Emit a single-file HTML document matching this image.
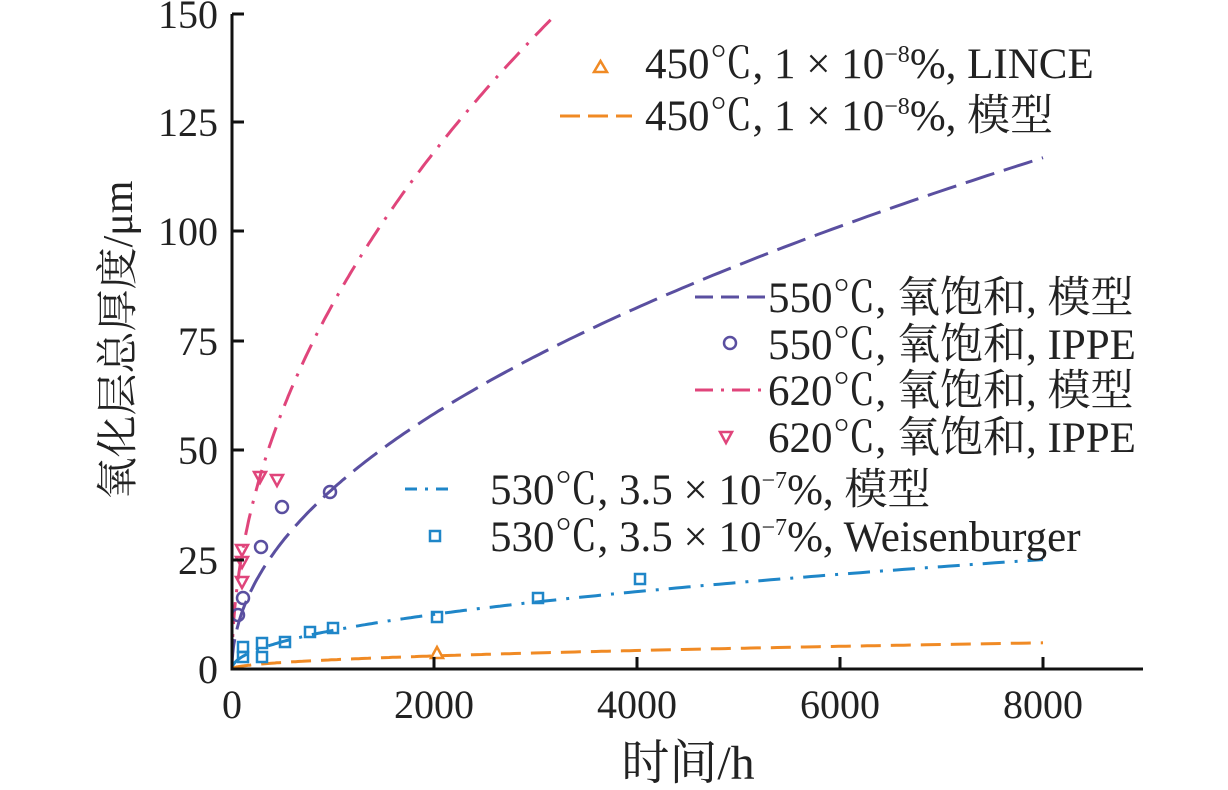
<!DOCTYPE html>
<html><head><meta charset="utf-8"><style>
body{margin:0;background:#fff}
svg text{font-family:"Liberation Serif","Noto Serif CJK SC",serif;fill:#222}
</style></head><body>
<svg width="1228" height="785" viewBox="0 0 1228 785" xmlns="http://www.w3.org/2000/svg">
<g id="curves" fill="none" stroke-width="3">
<path id="c620" stroke="#e0457b" stroke-dasharray="22,10,3,10"/>
<path id="c550" stroke="#5a4fa0" stroke-dasharray="30,10"/>
<path id="c530" stroke="#1f86c8" stroke-dasharray="22,10,3,10"/>
<path id="c450" stroke="#f08a24" stroke-dasharray="20,10"/>
</g>
<g fill="none" stroke="#5a4fa0" stroke-width="2.5">
<circle cx="238" cy="615" r="6"/><circle cx="243" cy="598" r="6"/><circle cx="261" cy="547" r="6"/><circle cx="282" cy="507" r="6"/><circle cx="330" cy="492" r="6"/>
</g>
<g fill="none" stroke="#e0457b" stroke-width="2.5">
<path d="M254 472h12l-6 11z"/><path d="M271 475h12l-6 11z"/><path d="M236 545h12l-6 11z"/><path d="M236 557h12l-6 11z"/><path d="M236 577h12l-6 11z"/>
</g>
<g fill="none" stroke="#1f86c8" stroke-width="2.5">
<rect x="238" y="642" width="10" height="10"/><rect x="257" y="638" width="10" height="10"/><rect x="257" y="652" width="10" height="10"/><rect x="238" y="652" width="10" height="10"/><rect x="280" y="637" width="10" height="10"/><rect x="305" y="627" width="10" height="10"/><rect x="328" y="623" width="10" height="10"/><rect x="432" y="612" width="10" height="10"/><rect x="533" y="593" width="10" height="10"/><rect x="635" y="574" width="10" height="10"/>
<rect x="430" y="531" width="10" height="10"/>
</g>
<path d="M431 658h12l-6-11z" fill="none" stroke="#f08a24" stroke-width="2.5"/>
<g stroke="#111" stroke-width="3" fill="none">
<path d="M232 14V669H1143"/>
<path d="M232 560h12M232 450h12M232 341h12M232 231h12M232 122h12M232 14h12"/>
<path d="M434 669v-12M637 669v-12M840 669v-12M1043 669v-12"/>
</g>
<g font-size="40" text-anchor="end">
<text x="218" y="683">0</text><text x="218" y="574">25</text><text x="218" y="464">50</text><text x="218" y="355">75</text><text x="218" y="245">100</text><text x="218" y="136">125</text><text x="218" y="28">150</text>
</g>
<g font-size="40" text-anchor="middle">
<text x="232" y="718">0</text><text x="434" y="718">2000</text><text x="637" y="718">4000</text><text x="840" y="718">6000</text><text x="1043" y="718">8000</text>
<text x="688" y="779" font-size="48">时间/h</text>
<text transform="translate(132,340) rotate(-90)" font-size="42">氧化层总厚度/μm</text>
</g>
<g font-size="43">
<path d="M594 72h13l-6.5-11z" fill="none" stroke="#f08a24" stroke-width="2.5"/>
<text x="645" y="78">450℃, 1 × 10<tspan font-size="24" dy="-16">−8</tspan><tspan dy="16">%, LINCE</tspan></text>
<path d="M560 116h72" stroke="#f08a24" stroke-width="3" stroke-dasharray="20,8"/>
<text x="645" y="130">450℃, 1 × 10<tspan font-size="24" dy="-16">−8</tspan><tspan dy="16">%, 模型</tspan></text>
<path d="M695 297h70" stroke="#5a4fa0" stroke-width="3" stroke-dasharray="18,8"/>
<text x="768" y="312">550℃, 氧饱和, 模型</text>
<circle cx="730" cy="343" r="6" fill="none" stroke="#5a4fa0" stroke-width="2.5"/>
<text x="768" y="359">550℃, 氧饱和, IPPE</text>
<path d="M695 390h70" stroke="#e0457b" stroke-width="3" stroke-dasharray="18,8,3,8"/>
<text x="768" y="405">620℃, 氧饱和, 模型</text>
<path d="M720 432h12l-6 11z" fill="none" stroke="#e0457b" stroke-width="2.5"/>
<text x="768" y="452">620℃, 氧饱和, IPPE</text>
<path d="M405 489h47" stroke="#1f86c8" stroke-width="3" stroke-dasharray="12,8,3,8"/>
<text x="490" y="504">530℃, 3.5 × 10<tspan font-size="24" dy="-16">−7</tspan><tspan dy="16">%, 模型</tspan></text>
<text x="490" y="551">530℃, 3.5 × 10<tspan font-size="24" dy="-16">−7</tspan><tspan dy="16">%, Weisenburger</tspan></text>
</g>
</svg>
<script>
function mk(id,k,tmax){var d="";for(var i=0;i<=200;i++){var t=tmax*Math.pow(i/200,2);var v=k*Math.sqrt(t);var x=232+t*0.10138,y=669-v*4.37;if(y<14)break;d+=(i?"L":"M")+x.toFixed(1)+" "+y.toFixed(1);}document.getElementById(id).setAttribute("d",d);}
mk("c620",2.65,3300);mk("c550",1.308,8000);mk("c530",0.28,8000);mk("c450",0.067,8000);
</script>
</body></html>
